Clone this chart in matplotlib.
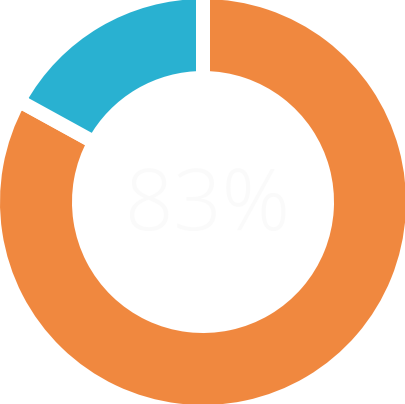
import matplotlib
matplotlib.use("Agg")
import matplotlib.pyplot as plt

labels = ["Orange", "Blue"]
values = [83, 17]
colors = ["#F0883F", "#29B1D1"]
center_text = "83%"

W, H = 406, 404
fig = plt.figure(figsize=(W / 100, H / 100), dpi=100)
ax = fig.add_axes([0, 0, 1, 1])
ax.set_xlim(0, W)
ax.set_ylim(0, H)
ax.set_aspect("equal")
ax.axis("off")

gap_px = 14
lw_pt = gap_px * 72 / 100
outer = 203 + gap_px / 2
inner = 131 - gap_px / 2
ax.pie(values, colors=colors, startangle=90, counterclock=False,
       center=(203, 202), radius=outer,
       wedgeprops=dict(width=outer - inner, edgecolor="white", linewidth=lw_pt))
ax.set_xlim(0, W)
ax.set_ylim(0, H)

ax.text(208, 196, center_text, ha="center", va="center", fontsize=61,
        color="#FAFAFA", family="Open Sans", fontweight="light")

fig.savefig("out.png", dpi=100)
